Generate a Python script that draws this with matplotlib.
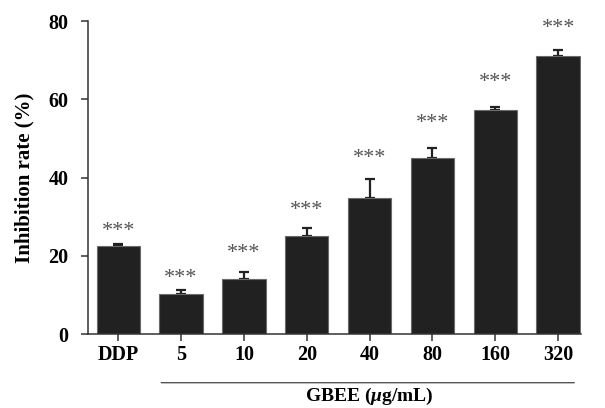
import matplotlib
matplotlib.use("Agg")
import matplotlib.pyplot as plt
import numpy as np

# data
groups = ["DDP", "5", "10", "20", "40", "80", "160", "320"]
rate = [22.5, 10.2, 14.0, 25.0, 34.7, 45.0, 57.2, 71.0]
err = [0.6, 1.1, 2.0, 2.0, 4.9, 2.6, 0.9, 1.5]
marks = ["***"] * 8
mark_y = [27.6, 15.6, 22.0, 33.0, 46.3, 55.0, 65.5, 79.3]  # where the stars sit

plt.rcParams["font.family"] = ["Liberation Serif", "DejaVu Serif"]
plt.rcParams["mathtext.fontset"] = "custom"
plt.rcParams["mathtext.it"] = "Liberation Serif:italic:bold"

fig = plt.figure(figsize=(6.05, 4.08), dpi=100)
ax = fig.add_axes([0.1455, 0.181, 0.8145, 0.7675])

x = np.arange(len(groups))
ax.bar(x, rate, width=0.69, color="#212121", edgecolor="#6a6a6a", linewidth=0.8, zorder=2)
ax.errorbar(x, rate, yerr=[np.zeros(len(err)), err], fmt="none", ecolor="#222222",
            elinewidth=1.6, capsize=3.5, capthick=1.6, zorder=1)

for i in range(len(x)):
    ax.text(x[i], mark_y[i] - 1.3, marks[i], ha="center", va="center",
            fontsize=16, color="#555555", clip_on=False)

ax.set_xlim(-0.48, 7.36)
ax.set_ylim(0, 80)
ax.set_yticks([0, 20, 40, 60, 80])
ax.set_xticks(x)
ax.set_xticklabels(groups)
for s in ["top", "right"]:
    ax.spines[s].set_visible(False)
for s in ["left", "bottom"]:
    ax.spines[s].set_color("#333333")
    ax.spines[s].set_linewidth(1.1)
ax.tick_params(axis="both", direction="out", length=5, width=1.1, color="#333333",
               labelsize=14.5)
ax.tick_params(axis="y", pad=9)
ax.tick_params(axis="x", pad=3)
for lab in ax.get_xticklabels() + ax.get_yticklabels():
    lab.set_fontweight("bold")

ax.set_ylabel("Inhibition rate (%)", fontsize=15, fontweight="bold", labelpad=10)

# group bracket under the GBEE concentrations
ax.annotate("", xy=(0.64, -0.155), xytext=(7.3, -0.155), xycoords=("data", "axes fraction"),
            textcoords=("data", "axes fraction"),
            arrowprops=dict(arrowstyle="-", color="#555555", lw=1.0))
ax.text(4.0, -0.2, r"GBEE ($\mathit{\mu}$g/mL)", transform=ax.get_xaxis_transform(),
        ha="center", va="center", fontsize=14, fontweight="bold")

fig.savefig("out.png", dpi=100)
